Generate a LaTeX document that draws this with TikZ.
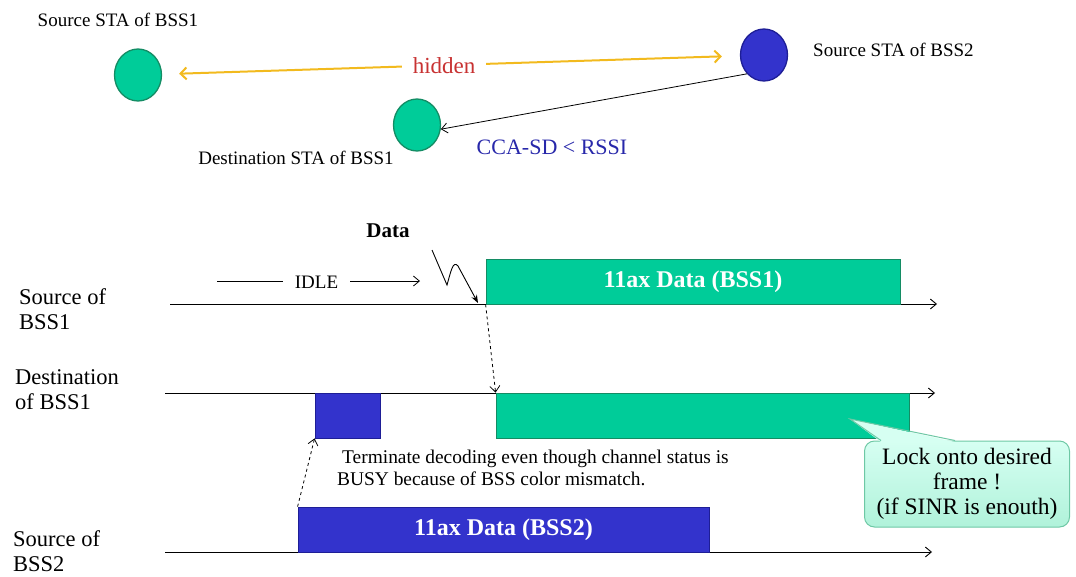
\documentclass[tikz,border=0pt]{standalone}
\usepackage{fontspec}
\setmainfont{Liberation Serif}
\newfontfamily\tnr{Liberation Serif}
\usetikzlibrary{arrows.meta,shapes.geometric,calc}
\definecolor{stagreen}{RGB}{0,204,153}
\definecolor{stagreenedge}{RGB}{20,140,100}
\definecolor{stablue}{RGB}{51,51,204}
\definecolor{stablueedge}{RGB}{30,30,150}
\definecolor{hidyellow}{RGB}{242,186,30}
\definecolor{hidred}{RGB}{200,50,50}
\definecolor{ccablue}{RGB}{40,40,170}
\definecolor{minttop}{RGB}{214,255,242}
\definecolor{mintbot}{RGB}{176,242,218}
\definecolor{mintedge}{RGB}{110,200,165}
\begin{document}
\begin{tikzpicture}[x=1pt,y=-1pt,
  sta/.style={ellipse, minimum width=47pt, minimum height=52pt, line width=1.3pt, inner sep=0pt},
  greensta/.style={sta, fill=stagreen, draw=stagreenedge},
  bluesta/.style={sta, fill=stablue, draw=stablueedge},
  lbl/.style={font=\tnr\fontsize{19}{22}\selectfont, inner sep=0pt},
  axislbl/.style={font=\tnr\fontsize{22.5}{25}\selectfont, align=left, anchor=west, inner sep=0pt},
  barb/.style={-{Straight Barb[length=6pt,width=10pt]}},
  timeline/.style={barb, line width=0.9pt},
  datafr/.style={minimum height=45pt, inner sep=0pt, text=white, line width=0.8pt,
    font=\tnr\bfseries\fontsize{24}{28}\selectfont},
  greenfr/.style={datafr, fill=stagreen, draw=stagreenedge},
  bluefr/.style={datafr, fill=stablue, draw=stablueedge},
]
\useasboundingbox (0,0) rectangle (1076,576);

% --- topology: stations and their relations
\node[greensta] (s1) at (138,75) {};
\node[greensta] (d1) at (417,125) {};
\node[bluesta]  (s2) at (764,55) {};
\node[lbl] (s1l) at (118,20) {Source STA of BSS1};
\node[lbl, anchor=west] (s2l) at (813,50) {Source STA of BSS2};
\node[lbl] (d1l) at (296,158) {Destination STA of BSS1};

\draw[hidyellow, line width=2pt, {Straight Barb[length=6pt,width=12pt]}-{Straight Barb[length=6pt,width=12pt]},
      shorten <=17pt, shorten >=18pt] (s1) -- (s2)
  node[pos=0.488, fill=white, text=hidred, inner xsep=11pt, font=\tnr\fontsize{23}{25}\selectfont] (hid) {hidden};
\draw[barb, line width=0.8pt] (s2.south west) -- (d1.350);
\node[text=ccablue, font=\tnr\fontsize{22}{24}\selectfont, inner sep=0pt] (cca) at (552,147) {CCA-SD < RSSI};

% --- time axes
\node[axislbl] (ax1) at (19,309) {Source of\\BSS1};
\node[axislbl] (ax2) at (15,390) {Destination\\of BSS1};
\node[axislbl] (ax3) at (13,551) {Source of\\BSS2};
\coordinate (t1a) at (170,304); \coordinate (t1b) at (937,304);
\coordinate (t2a) at (165,393); \coordinate (t2b) at (935,393);
\coordinate (t3a) at (165,552); \coordinate (t3b) at (932,552);
\draw[timeline] (t1a) -- (t1b);
\draw[timeline] (t2a) -- (t2b);
\draw[timeline] (t3a) -- (t3b);

% --- frames on the air
\node[greenfr, minimum width=414pt] (g1) at (693,281.5) {11ax Data (BSS1)};
\node[greenfr, minimum width=413pt] (g2) at (702.5,415.5) {};
\node[bluefr, minimum width=65pt] (b1) at (347.5,415.5) {};
\node[bluefr, minimum width=411pt] (b2) at (503.5,529.5) {11ax Data (BSS2)};

% --- idle period and data arrival
\node[font=\tnr\fontsize{19}{21}\selectfont, inner xsep=12pt, inner ysep=0pt] (idle) at (316.5,282) {IDLE};
\coordinate (idl) at (217,281); \coordinate (idr) at (420,281);
\draw[line width=0.8pt] (idl) -- (idle.west |- idl);
\draw[barb, line width=0.8pt] (idle.east |- idr) -- (idr);
\node[font=\tnr\bfseries\fontsize{21}{23}\selectfont, inner sep=0pt] (data) at (388,231) {Data};
\coordinate (sq0) at (432,250); \coordinate (sq1) at (447,285);
\coordinate (sq2) at (458,266); \coordinate (sq3) at (478,303);
\draw[-{Stealth[length=8pt,width=6pt]}, line width=0.9pt]
  (sq0) -- (sq1) .. controls +(4,-14) and +(-5,-6) .. (sq2) -- (sq3);

% --- propagation to the destination
\draw[barb, dashed, line width=0.8pt] (g1.south west) -- (g2.north west);
\draw[barb, dashed, line width=0.8pt] (b2.north west) -- (b1.south west);

\node[font=\tnr\fontsize{19.4}{22}\selectfont, align=left, anchor=north west, inner sep=0pt] (term) at (337,450)
  {\hspace*{5pt}Terminate decoding even though channel status is\\BUSY because of BSS color mismatch.};

% --- callout
\node[top color=minttop, bottom color=mintbot, draw=mintedge, line width=1pt, rounded corners=10pt,
      minimum width=205pt, minimum height=86pt, align=center, inner sep=0pt,
      font=\tnr\fontsize{23.5}{25}\selectfont] (lock) at (967,484)
  {Lock onto desired\\frame !\\(if SINR is enouth)};
\coordinate (ptip) at (850,419);
\coordinate (pl) at ($(lock.north west)+(17,0)$);
\coordinate (pr) at ($(lock.north west)+(91,0)$);
\fill[minttop] (ptip) -- ($(pl)+(0,1.5)$) -- ($(pr)+(0,1.5)$) -- cycle;
\draw[mintedge, line width=1pt] (pl) -- (ptip) -- (pr);
\end{tikzpicture}
\end{document}
